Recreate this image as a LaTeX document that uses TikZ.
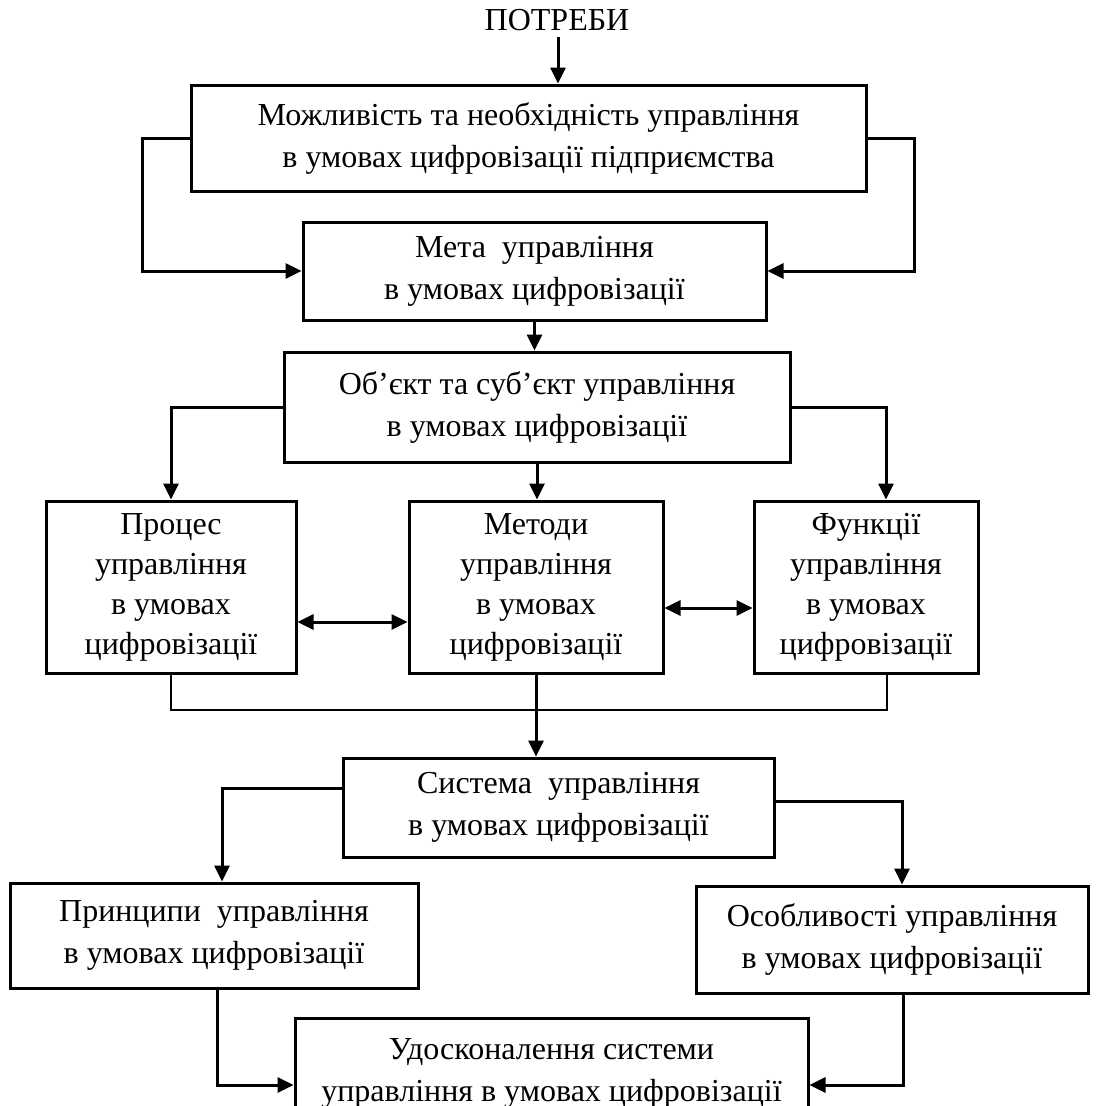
\documentclass[tikz,border=0pt]{standalone}
\usepackage{fontspec}
\setmainfont{Liberation Serif}
\usetikzlibrary{arrows.meta}
\begin{document}
\begin{tikzpicture}[x=1pt,y=-1pt,
  box/.style={draw,line width=3pt,inner sep=0pt,align=center,font=\fontsize{32}{42}\selectfont},
  tall/.style={box,font=\fontsize{32}{40}\selectfont},
  arr/.style={line width=3pt,-{Triangle[length=16pt,width=15pt]}},
  dbl/.style={line width=3pt,{Triangle[length=16pt,width=15pt]}-{Triangle[length=16pt,width=15pt]}},
  thin/.style={line width=1.3pt},
  lbl/.style={font=\fontsize{32}{36}\selectfont,inner sep=0pt}]
\useasboundingbox (0,0) rectangle (1096,1106);
\clip (0,0) rectangle (1096,1106);
\node[lbl] (need) at (557,20) {ПОТРЕБИ};
\node[box,minimum width=675pt,minimum height=106pt] (B1) at (528.5,138) {Можливість та необхідність управління\\в умовах цифровізації підприємства};
\node[box,minimum width=463pt,minimum height=98pt] (B2) at (534.5,271) {Мета\ \ управління\\в умовах цифровізації};
\node[box,minimum width=506pt,minimum height=110pt] (B3) at (537,407) {Об’єкт та суб’єкт управління\\в умовах цифровізації};
\node[tall,minimum width=250pt,minimum height=172pt] (P) at (171,587) {Процес\\управління\\в умовах\\цифровізації};
\node[tall,minimum width=254pt,minimum height=172pt] (M) at (536,587) {Методи\\управління\\в умовах\\цифровізації};
\node[tall,minimum width=224pt,minimum height=172pt] (F) at (866,587) {Функції\\управління\\в умовах\\цифровізації};
\node[box,minimum width=431pt,minimum height=99pt] (S) at (558.5,807.5) {Система\ \ управління\\в умовах цифровізації};
\node[box,minimum width=408pt,minimum height=105pt] (Pr) at (214,935.5) {Принципи\ \ управління\\в умовах цифровізації};
\node[box,minimum width=392pt,minimum height=107pt] (O) at (892,939.5) {Особливості управління\\в умовах цифровізації};
\node[box,minimum width=513pt,minimum height=110pt] (U) at (551.5,1073) {Удосконалення системи\\управління в умовах цифровізації};
\coordinate (tl) at (171,710);
\coordinate (tr) at (887,710);
\draw[arr] ([yshift=-6pt]need.south -| 558,0) -- (558,0 |- B1.north);
\draw[arr] (B1.west) -- ++(-47,0) |- (B2.west);
\draw[arr] (B1.east) -- ++(47,0) |- (B2.east);
\draw[arr] (B2.south) -- (B2.south |- B3.north);
\draw[arr] (B3.west) -| (P.north);
\draw[arr] (B3.south) -- (B3.south |- M.north);
\draw[arr] (B3.east) -| ([xshift=20pt]F.north);
\draw[dbl] ([yshift=-35pt]P.east) -- ([yshift=-35pt]M.west);
\draw[dbl] ([yshift=-21pt]M.east) -- ([yshift=-21pt]F.west);
\draw[thin] (P.south) -- (tl) -- (tr) -- (tr |- F.south);
\draw[arr] (M.south) -- (M.south |- S.north);
\draw[arr] ([yshift=19.5pt]S.west) -| ([xshift=8pt]Pr.north);
\draw[arr] ([yshift=6.5pt]S.east) -| ([xshift=10pt]O.north);
\draw[arr] ([xshift=3pt]Pr.south) |- ([yshift=-12pt]U.west);
\draw[arr] ([xshift=11pt]O.south) |- ([yshift=-12pt]U.east);
\end{tikzpicture}
\end{document}
